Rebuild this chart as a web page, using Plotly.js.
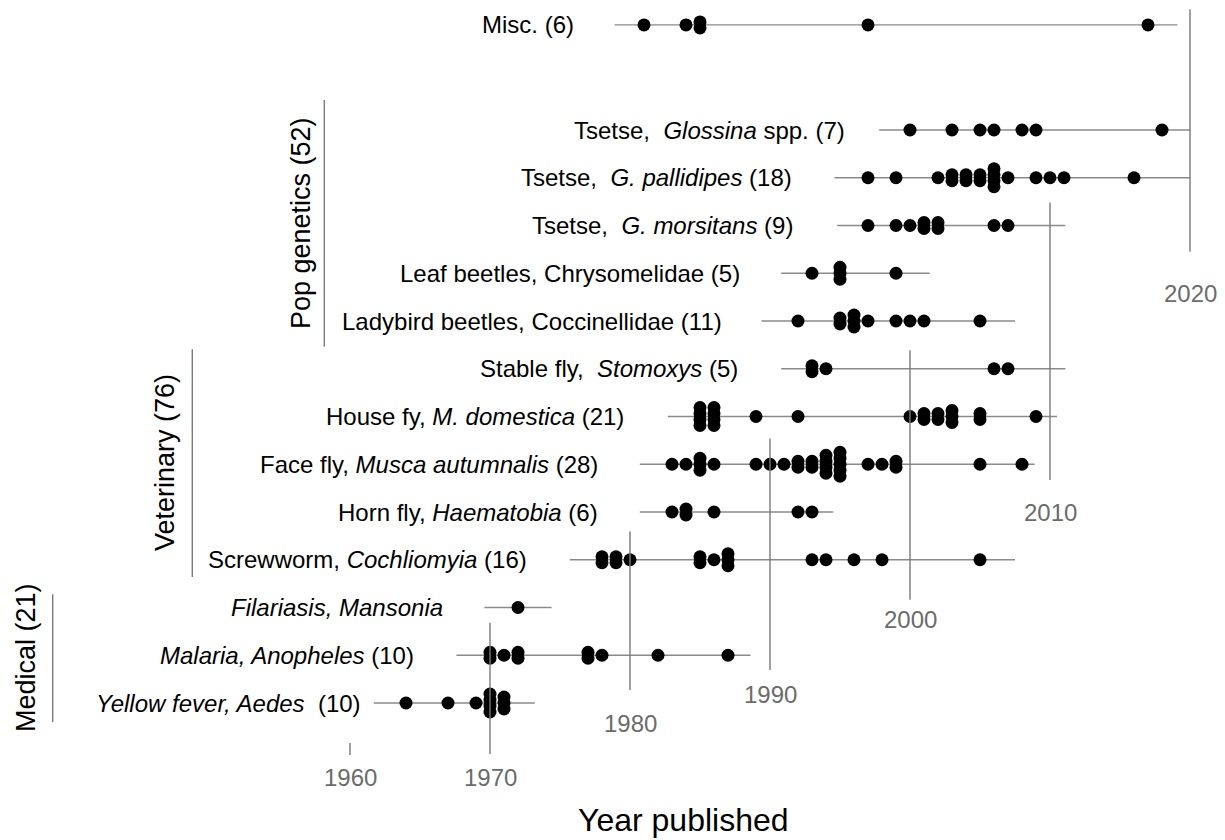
<!DOCTYPE html>
<html><head><meta charset="utf-8">
<script src="https://cdn.plot.ly/plotly-3.0.1.min.js"></script>
<style>html,body{margin:0;padding:0;background:#fff}</style>
</head><body><div id="chart" style="width:1225px;height:840px"></div>
<script>
// ---------------- DATA ----------------
const SP = "&nbsp;";
const rowLabels = [
  "<i>Yellow fever, Aedes</i>" + SP + " (10)",
  "<i>Malaria, Anopheles</i> (10)",
  "<i>Filariasis, Mansonia</i>",
  "Screwworm, <i>Cochliomyia</i> (16)",
  "Horn fly, <i>Haematobia</i> (6)",
  "Face fly, <i>Musca autumnalis</i> (28)",
  "House fy, <i>M. domestica</i> (21)",
  "Stable fly," + SP + " <i>Stomoxys</i> (5)",
  "Ladybird beetles, Coccinellidae (11)",
  "Leaf beetles, Chrysomelidae (5)",
  "Tsetse," + SP + " <i>G. morsitans</i> (9)",
  "Tsetse," + SP + " <i>G. pallidipes</i> (18)",
  "Tsetse," + SP + " <i>Glossina</i> spp. (7)",
  "Misc. (6)"
];
const yellowFever = [1964, 1967, 1969, 1970, 1970, 1970, 1970, 1971, 1971, 1971];
const malaria     = [1970, 1970, 1971, 1972, 1972, 1977, 1977, 1978, 1982, 1987];
const filariasis  = [1972];
const screwworm   = [1978, 1978, 1979, 1979, 1980, 1985, 1985, 1986, 1987, 1987, 1987, 1993, 1994, 1996, 1998, 2005];
const hornFly     = [1983, 1984, 1984, 1986, 1992, 1993];
const faceFly     = [1983, 1984, 1985, 1985, 1985, 1986, 1989, 1990, 1991, 1992, 1992, 1993, 1993,
                     1994, 1994, 1994, 1994, 1995, 1995, 1995, 1995, 1995, 1997, 1998, 1999, 1999, 2005, 2008];
const houseFly    = [1985, 1985, 1985, 1985, 1986, 1986, 1986, 1986, 1989, 1992, 2000, 2001, 2001,
                     2002, 2002, 2003, 2003, 2003, 2005, 2005, 2009];
const stableFly   = [1993, 1993, 1994, 2006, 2007];
const ladybird    = [1992, 1995, 1995, 1996, 1996, 1996, 1997, 1999, 2000, 2001, 2005];
const leafBeetles = [1993, 1995, 1995, 1995, 1999];
const morsitans   = [1997, 1999, 2000, 2001, 2001, 2002, 2002, 2006, 2007];
const pallidipes  = [1997, 1999, 2002, 2003, 2003, 2004, 2004, 2005, 2005, 2006, 2006, 2006, 2006,
                     2007, 2009, 2010, 2011, 2016];
const glossina    = [2000, 2003, 2005, 2006, 2008, 2009, 2018];
const misc        = [1981, 1984, 1985, 1985, 1997, 2017];
const rowYears = [yellowFever, malaria, filariasis, screwworm, hornFly, faceFly, houseFly,
                  stableFly, ladybird, leafBeetles, morsitans, pallidipes, glossina, misc];
// span of each row's horizontal line (years)
const spanStart = [1961.7, 1967.6, 1969.6, 1975.7, 1980.7, 1980.7, 1982.7, 1990.8, 1989.4, 1990.8, 1994.8, 1994.6, 1997.8, 1978.9];
const spanEnd   = [1973.2, 1988.6, 1974.4, 2007.5, 1994.5, 2008.9, 2010.5, 2011.1, 2007.5, 2001.4, 2011.1, 2020.0, 2020.0, 2019.1];

const groupNames = ["Medical (21)", "Veterinary (76)", "Pop genetics (52)"];
const decadeYears  = [1960, 1970, 1980, 1990, 2000, 2010, 2020];
const decadeLabels = ["1960", "1970", "1980", "1990", "2000", "2010", "2020"];
const xTitle = "Year published";

// ---------------- LAYOUT / STYLE CONFIG ----------------
const W = 1225, H = 840;
const ROW_PX = 47.75;
const rowPos = [0, 1, 2, 3, 4, 5, 6, 7, 8, 9, 10, 11, 12, 14.2];
const labelGapPx = [12, 41, 40, 42, 41, 41, 43, 42, 39, 40, 43, 41, 33, 40];
const stackPx = 6;
const decadeTop    = [-0.84, 1.68, 3.59, 5.54, 7.39, 10.48, 14.53];
const decadeBottom = [-1.09, -1.07, 0.27, 0.69, 2.16, 4.67, 9.45];
const decadeLabelY = [-1.55, -1.55, -0.43, 0.17, 1.74, 3.99, 8.57];
const groupLineX  = [52.7, 192.3, 324.3];   // px
const groupLabelX = [26, 165, 301.7];       // px
const groupY0 = [-0.4, 2.64, 7.46];
const groupY1 = [2.28, 7.41, 12.63];
const FONT = "Liberation Sans, Arial, sans-serif";
const pxX = px => 1935 + px / 14;   // horizontal pixel -> year units

// ---------------- BUILD ----------------
const lx = [], ly = [];
rowYears.forEach((ys, i) => {
  lx.push(spanStart[i], spanEnd[i], null);
  ly.push(rowPos[i], rowPos[i], null);
});
const dx = [], dy = [];
rowYears.forEach((ys, i) => {
  const counts = {};
  ys.forEach(y => counts[y] = (counts[y] || 0) + 1);
  Object.keys(counts).forEach(k => {
    const n = counts[k];
    for (let j = 0; j < n; j++) {
      dx.push(+k);
      dy.push(rowPos[i] + (j - (n - 1) / 2) * stackPx / ROW_PX);
    }
  });
});

const traces = [
  {type: "scatter", mode: "lines", x: lx, y: ly, hoverinfo: "skip",
   line: {color: "#8a8a8a", width: 1.3}, showlegend: false},
  {type: "scatter", mode: "markers", x: dx, y: dy, hoverinfo: "skip",
   marker: {color: "#000", size: 13}, showlegend: false}
];

const shapes = [];
decadeYears.forEach((d, i) => {
  shapes.push({type: "line", xref: "x", yref: "y", x0: d, x1: d, y0: decadeBottom[i], y1: decadeTop[i],
               line: {color: "#7a7a7a", width: 1.4}});
});
groupNames.forEach((g, i) => {
  shapes.push({type: "line", xref: "x", yref: "y", x0: pxX(groupLineX[i]), x1: pxX(groupLineX[i]),
               y0: groupY0[i], y1: groupY1[i], line: {color: "#7a7a7a", width: 1.4}});
});

const annotations = [];
rowLabels.forEach((t, i) => {
  annotations.push({x: spanStart[i], y: rowPos[i], xref: "x", yref: "y", text: t, showarrow: false,
    xanchor: "right", yanchor: "middle", xshift: -labelGapPx[i] + 1,
    font: {family: FONT, size: 24, color: "#000"}});
});
decadeYears.forEach((d, i) => {
  annotations.push({x: d, y: decadeLabelY[i], xref: "x", yref: "y", text: decadeLabels[i], showarrow: false,
    xanchor: "center", yanchor: "middle", font: {family: FONT, size: 24, color: "#6b6b6b"}});
});
groupNames.forEach((g, i) => {
  annotations.push({x: pxX(groupLabelX[i]), y: (groupY0[i] + groupY1[i]) / 2, xref: "x", yref: "y",
    text: g, showarrow: false, textangle: -90, xanchor: "center", yanchor: "middle",
    font: {family: FONT, size: 27, color: "#000"}});
});
annotations.push({x: pxX(683), y: (703 - 820) / ROW_PX, xref: "x", yref: "y", text: xTitle, showarrow: false,
  xanchor: "center", yanchor: "middle", font: {family: FONT, size: 32, color: "#000"}});

const layout = {
  width: W, height: H, autosize: false,
  margin: {l: 0, r: 0, t: 0, b: 0, pad: 0},
  paper_bgcolor: "#fff", plot_bgcolor: "#fff",
  xaxis: {range: [1935, 1935 + W / 14], visible: false, fixedrange: true},
  yaxis: {range: [(703 - H) / ROW_PX, 703 / ROW_PX], visible: false, fixedrange: true},
  shapes: shapes, annotations: annotations, showlegend: false
};
Plotly.newPlot("chart", traces, layout, {displayModeBar: false, staticPlot: true});
</script>
</body></html>
